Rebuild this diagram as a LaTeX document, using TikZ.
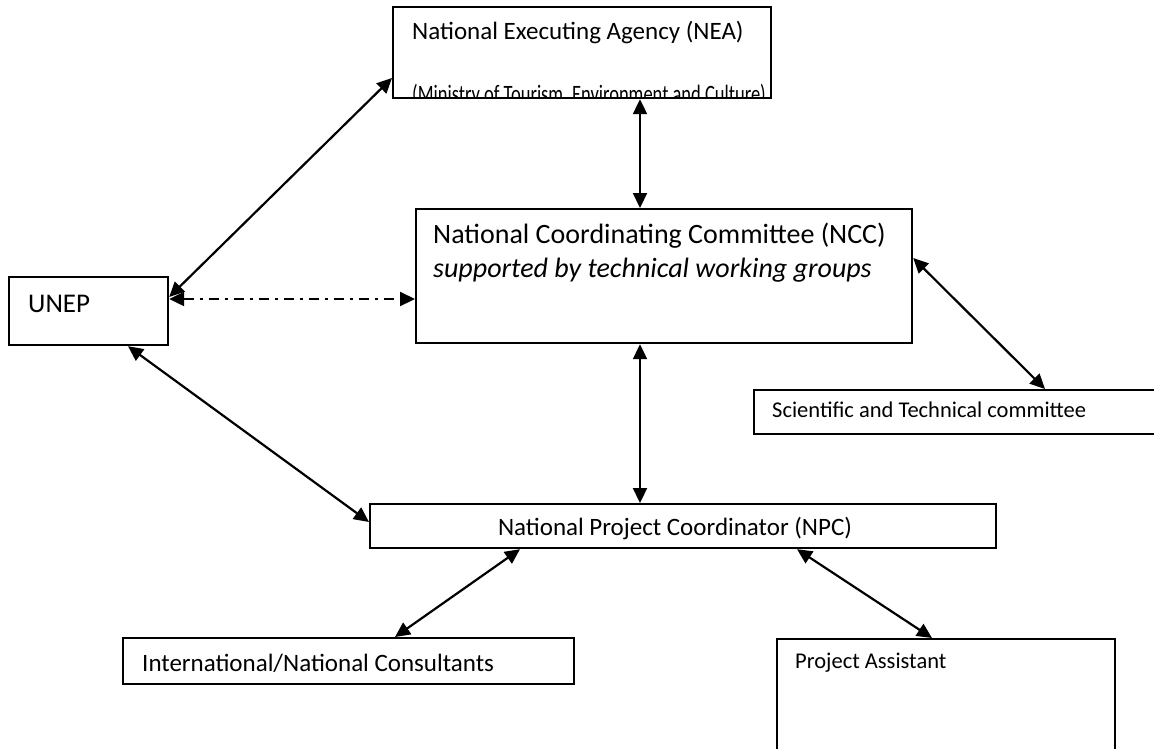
\documentclass[tikz,border=0pt]{standalone}
\usepackage{fontspec}
\setmainfont{Carlito}
\usetikzlibrary{arrows.meta}
\tikzset{
  box/.style={draw, line width=2.2pt, inner sep=0pt, anchor=north west},
  lbl/.style={inner sep=0pt, anchor=base west},
  link/.style={line width=2.2pt, >={Triangle[length=15pt,width=14pt]}, <->},
  dashdot/.style={dash pattern=on 10pt off 6pt on 3pt off 6pt}
}
\newcommand{\fs}[1]{\fontsize{#1}{#1}\selectfont}
\begin{document}
\begin{tikzpicture}[x=1pt,y=-1pt]
\clip (0,0) rectangle (1154,748);
\fill[white] (0,0) rectangle (1154,748);
\coordinate (xmid) at (640,0);

% NEA text (second line cut by the box)
\begin{scope}
\clip (393,7) rectangle (769,96);
\node[lbl] (neat1) at (412,39) {\fs{25}National Executing Agency (NEA)};
\node[lbl] (neat2) at (412,102) {\fs{25}\scalebox{0.74}[1]{(Ministry of Tourism, Environment and Culture)}};
\end{scope}
\node[box, minimum width=378, minimum height=91] (nea) at (392,6) {};

\node[box, minimum width=496, minimum height=134] (ncc) at (415,208) {};
\node[lbl] (ncct1) at (433,243) {\fs{28}National Coordinating Committee (NCC)};
\node[lbl] (ncct2) at (433,277) {\fs{28}\itshape supported by technical working groups};

\node[box, minimum width=159, minimum height=68] (unep) at (8,276) {};
\node[lbl] (unept) at (28,312) {\fs{27}UNEP};

\node[box, minimum width=430, minimum height=44] (sci) at (753,389) {};
\node[lbl] (scit) at (772,417) {\fs{22.5}Scientific and Technical committee};

\node[box, minimum width=626, minimum height=44] (npc) at (369,503) {};
\node[inner sep=0pt, anchor=base] (npct) at (675,535) {\fs{25}National Project Coordinator (NPC)};

\node[box, minimum width=451, minimum height=46] (cons) at (122,637) {};
\node[lbl] (const) at (142,671) {\fs{25}International/National Consultants};

\node[box, minimum width=338, minimum height=150] (pa) at (776,638) {};
\node[lbl] (pat) at (795,668) {\fs{22.5}Project Assistant};

% connectors
\draw[link] (unep.east |- 0,297) -- (nea.west |- 0,78);
\draw[link, dashdot] (unep.east |- 0,299) -- (ncc.west |- 0,299);
\draw[link] (nea.south -| xmid) -- (ncc.north -| xmid);
\draw[link] (ncc.east |- 0,258) -- (sci.north -| 1045,0);
\draw[link] (unep.south -| 128,0) -- (npc.west |- 0,522);
\draw[link] (ncc.south -| xmid) -- (npc.north -| xmid);
\draw[link] (npc.south -| 520,0) -- (cons.north -| 395,0);
\draw[link] (npc.south -| 797,0) -- (pa.north -| 932,0);
\end{tikzpicture}
\end{document}
